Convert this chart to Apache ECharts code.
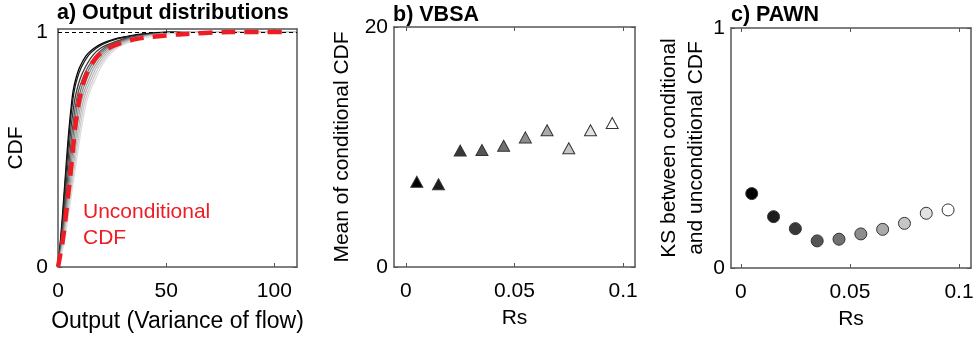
<!DOCTYPE html>
<html>
<head>
<meta charset="utf-8">
<script src="https://cdn.jsdelivr.net/npm/echarts@6/dist/echarts.min.js"></script>
<style>
  html, body { margin: 0; padding: 0; background: #fff; }
  #chart { width: 977px; height: 339px; }
</style>
</head>
<body>
<div id="chart"></div>
<script>
// CDF levels shared by all curves of panel a
const cdfLevels = [0, 0.05, 0.1, 0.2, 0.3, 0.4, 0.5, 0.6, 0.7, 0.75, 0.8, 0.85, 0.9, 0.93, 0.95, 0.97, 0.98, 0.99, 1, 1];

// output value reached at each CDF level, one list per Rs class
const condCdf = [
  [0, 0.5, 1.0, 1.9, 2.7, 3.5, 4.3, 5.2, 6.3, 7.0, 8.2, 10.0, 13.0, 16.5, 20, 26, 31, 37, 50, 110],
  [0, 0.6, 1.1, 2.1, 2.9, 3.7, 4.6, 5.5, 6.7, 7.5, 8.8, 10.8, 14.0, 17.5, 21, 27, 32, 39, 52, 110],
  [0, 0.7, 1.3, 2.4, 3.3, 4.2, 5.1, 6.1, 7.5, 8.6, 10.2, 12.6, 16.0, 19.5, 24, 30, 35, 42, 54, 110],
  [0, 0.8, 1.5, 2.7, 3.7, 4.7, 5.7, 6.8, 8.3, 9.5, 11.3, 13.8, 17.5, 21.0, 25, 31, 36, 43, 55, 110],
  [0, 0.9, 1.7, 3.0, 4.1, 5.2, 6.3, 7.5, 9.1, 10.4, 12.3, 14.8, 18.5, 22.0, 26, 32, 37, 44, 56, 110],
  [0, 1.0, 1.9, 3.3, 4.5, 5.7, 6.9, 8.2, 9.9, 11.3, 13.3, 15.8, 19.5, 23.0, 27, 33, 38, 45, 57, 110],
  [0, 1.1, 2.1, 3.6, 4.9, 6.2, 7.5, 8.9, 10.7, 12.2, 14.3, 16.8, 20.5, 24.0, 28, 34, 39, 46, 58, 110],
  [0, 1.2, 2.3, 3.9, 5.3, 6.7, 8.1, 9.6, 11.5, 13.1, 15.3, 17.8, 21.5, 25.0, 29, 35, 40, 47, 59, 110],
  [0, 1.3, 2.5, 4.2, 5.7, 7.2, 8.7, 10.3, 12.3, 14.0, 16.3, 18.8, 22.5, 26.0, 30, 36, 41, 48, 60, 110],
  [0, 1.4, 2.7, 4.5, 6.1, 7.7, 9.3, 11.0, 13.1, 14.9, 17.3, 19.8, 23.5, 27.0, 31, 37, 42, 49, 61, 110]
];
const uncondCdf = [0, 1.0, 2.0, 3.4, 4.6, 5.8, 6.9, 8.0, 9.6, 10.8, 12.3, 14.6, 18.5, 23, 28, 36, 44, 56, 80, 105];

// panels b and c
const rsValues = [0.005, 0.015, 0.025, 0.035, 0.045, 0.055, 0.065, 0.075, 0.085, 0.095];
const vbsaMean = [7.1, 6.9, 9.7, 9.75, 10.1, 10.8, 11.4, 9.9, 11.4, 12.0];
const pawnKs = [0.31, 0.214, 0.164, 0.113, 0.12, 0.142, 0.161, 0.186, 0.228, 0.242];

const xTicksA = [0, 50, 100];
const yTicksA = [0, 1];
const xTicksRs = [0, 0.05, 0.1];
const yTicksB = [0, 20];
const yTicksC = [0, 1];

const grayShades = ['#000000', '#1c1c1c', '#383838', '#555555', '#717171',
                    '#8d8d8d', '#aaaaaa', '#c6c6c6', '#e2e2e2', '#ffffff'];
const lineShades = ['#000000', '#1c1c1c', '#383838', '#555555', '#717171',
                    '#8d8d8d', '#a5a5a5', '#b8b8b8', '#cacaca', '#dcdcdc'];

const FONT = "'Liberation Sans', Arial, sans-serif";
const AXIS_COLOR = '#555';

function xAxisPair(gridIndex, min, max, ticks, name, nameGap, nameSize) {
  const bottom = {
    type: 'value', gridIndex, min, max, position: 'bottom',
    name, nameLocation: 'middle', nameGap,
    nameTextStyle: { fontFamily: FONT, fontSize: nameSize, color: '#000' },
    axisLine: { show: true, onZero: false, lineStyle: { color: AXIS_COLOR, width: 1.5 } },
    axisTick: { show: true, inside: true, length: 4, customValues: ticks, lineStyle: { color: AXIS_COLOR } },
    axisLabel: { customValues: ticks, margin: 14, fontFamily: FONT, fontSize: 21, color: '#000',
                 formatter: v => String(v) },
    splitLine: { show: false }
  };
  const top = {
    type: 'value', gridIndex, min, max, position: 'top',
    axisLine: { show: true, onZero: false, lineStyle: { color: AXIS_COLOR, width: 1.5 } },
    axisTick: { show: true, inside: true, length: 4, customValues: ticks, lineStyle: { color: AXIS_COLOR } },
    axisLabel: { show: false },
    splitLine: { show: false }
  };
  return [bottom, top];
}

function yAxisPair(gridIndex, min, max, ticks, name, nameGap, margin) {
  const left = {
    type: 'value', gridIndex, min, max, position: 'left',
    name, nameLocation: 'middle', nameGap, nameRotate: 90,
    nameTextStyle: { fontFamily: FONT, fontSize: 21, color: '#000', lineHeight: 27 },
    axisLine: { show: true, onZero: false, lineStyle: { color: AXIS_COLOR, width: 1.5 } },
    axisTick: { show: true, inside: true, length: 4, customValues: ticks, lineStyle: { color: AXIS_COLOR } },
    axisLabel: { customValues: ticks, margin, fontFamily: FONT, fontSize: 21, color: '#000',
                 formatter: v => String(v) },
    splitLine: { show: false }
  };
  const right = {
    type: 'value', gridIndex, min, max, position: 'right',
    axisLine: { show: true, onZero: false, lineStyle: { color: AXIS_COLOR, width: 1.5 } },
    axisTick: { show: true, inside: true, length: 4, customValues: ticks, lineStyle: { color: AXIS_COLOR } },
    axisLabel: { show: false },
    splitLine: { show: false }
  };
  return [left, right];
}

const xAxes = [
  ...xAxisPair(0, 0, 110.5, xTicksA, 'Output (Variance of flow)', 43, 23),
  ...xAxisPair(1, -0.0055, 0.1055, xTicksRs, 'Rs', 41, 21),
  ...xAxisPair(2, -0.0045, 0.1055, xTicksRs, 'Rs', 41, 21)
];
const yAxes = [
  ...yAxisPair(0, 0, 1.013, yTicksA, 'CDF', 28, 10),
  ...yAxisPair(1, 0, 20, yTicksB, 'Mean of conditional CDF', 38, 6),
  ...yAxisPair(2, 0, 1, yTicksC, 'KS between conditional\nand unconditional CDF', 19, 6)
];

const series = [];
condCdf.forEach((xs, k) => {
  const s = {
    type: 'line', xAxisIndex: 0, yAxisIndex: 0,
    data: xs.map((x, i) => [x, cdfLevels[i]]),
    showSymbol: false, smooth: 0.3,
    lineStyle: { color: lineShades[k], width: 1.3 },
    silent: true
  };
  if (k === 0) {
    s.markLine = {
      silent: true, symbol: 'none', label: { show: false },
      lineStyle: { color: '#000', type: [4, 3], width: 1 },
      data: [{ yAxis: 1 }]
    };
  }
  series.push(s);
});
series.push({
  type: 'line', xAxisIndex: 0, yAxisIndex: 0,
  data: uncondCdf.map((x, i) => [x, cdfLevels[i]]),
  showSymbol: false, smooth: 0.3,
  lineStyle: { color: '#ee1c24', width: 4.5, type: [14, 9] },
  z: 5
});
series.push({
  type: 'scatter', xAxisIndex: 2, yAxisIndex: 2,
  symbol: 'triangle', symbolSize: [12, 11],
  data: rsValues.map((r, i) => ({
    value: [r, vbsaMean[i]],
    itemStyle: { color: grayShades[i], borderColor: '#333', borderWidth: 1, opacity: 1 }
  }))
});
series.push({
  type: 'scatter', xAxisIndex: 4, yAxisIndex: 4,
  symbol: 'circle', symbolSize: 12,
  data: rsValues.map((r, i) => ({
    value: [r, pawnKs[i]],
    itemStyle: { color: grayShades[i], borderColor: '#333', borderWidth: 1, opacity: 1 }
  }))
});

const titleStyle = { fontFamily: FONT, fontSize: 21.5, fontWeight: 'bold', color: '#000' };

const option = {
  backgroundColor: '#fff',
  animation: false,
  title: [
    { text: 'a) Output distributions', left: 57, top: 2, padding: 0, textStyle: titleStyle },
    { text: 'b) VBSA', left: 393, top: 4, padding: 0, textStyle: titleStyle },
    { text: 'c) PAWN', left: 731, top: 4, padding: 0, textStyle: titleStyle }
  ],
  grid: [
    { left: 58, top: 29, width: 239, height: 238 },
    { left: 394, top: 27, width: 241, height: 240 },
    { left: 731, top: 28, width: 240, height: 240 }
  ],
  xAxis: xAxes,
  yAxis: yAxes,
  graphic: [{
    type: 'text', left: 83, top: 199,
    style: { text: 'Unconditional\nCDF', fill: '#ee1c24', font: '21px ' + FONT, lineHeight: 26 }
  }],
  series
};

const chart = echarts.init(document.getElementById('chart'), null, { renderer: 'canvas' });
chart.setOption(option);
</script>
</body>
</html>
